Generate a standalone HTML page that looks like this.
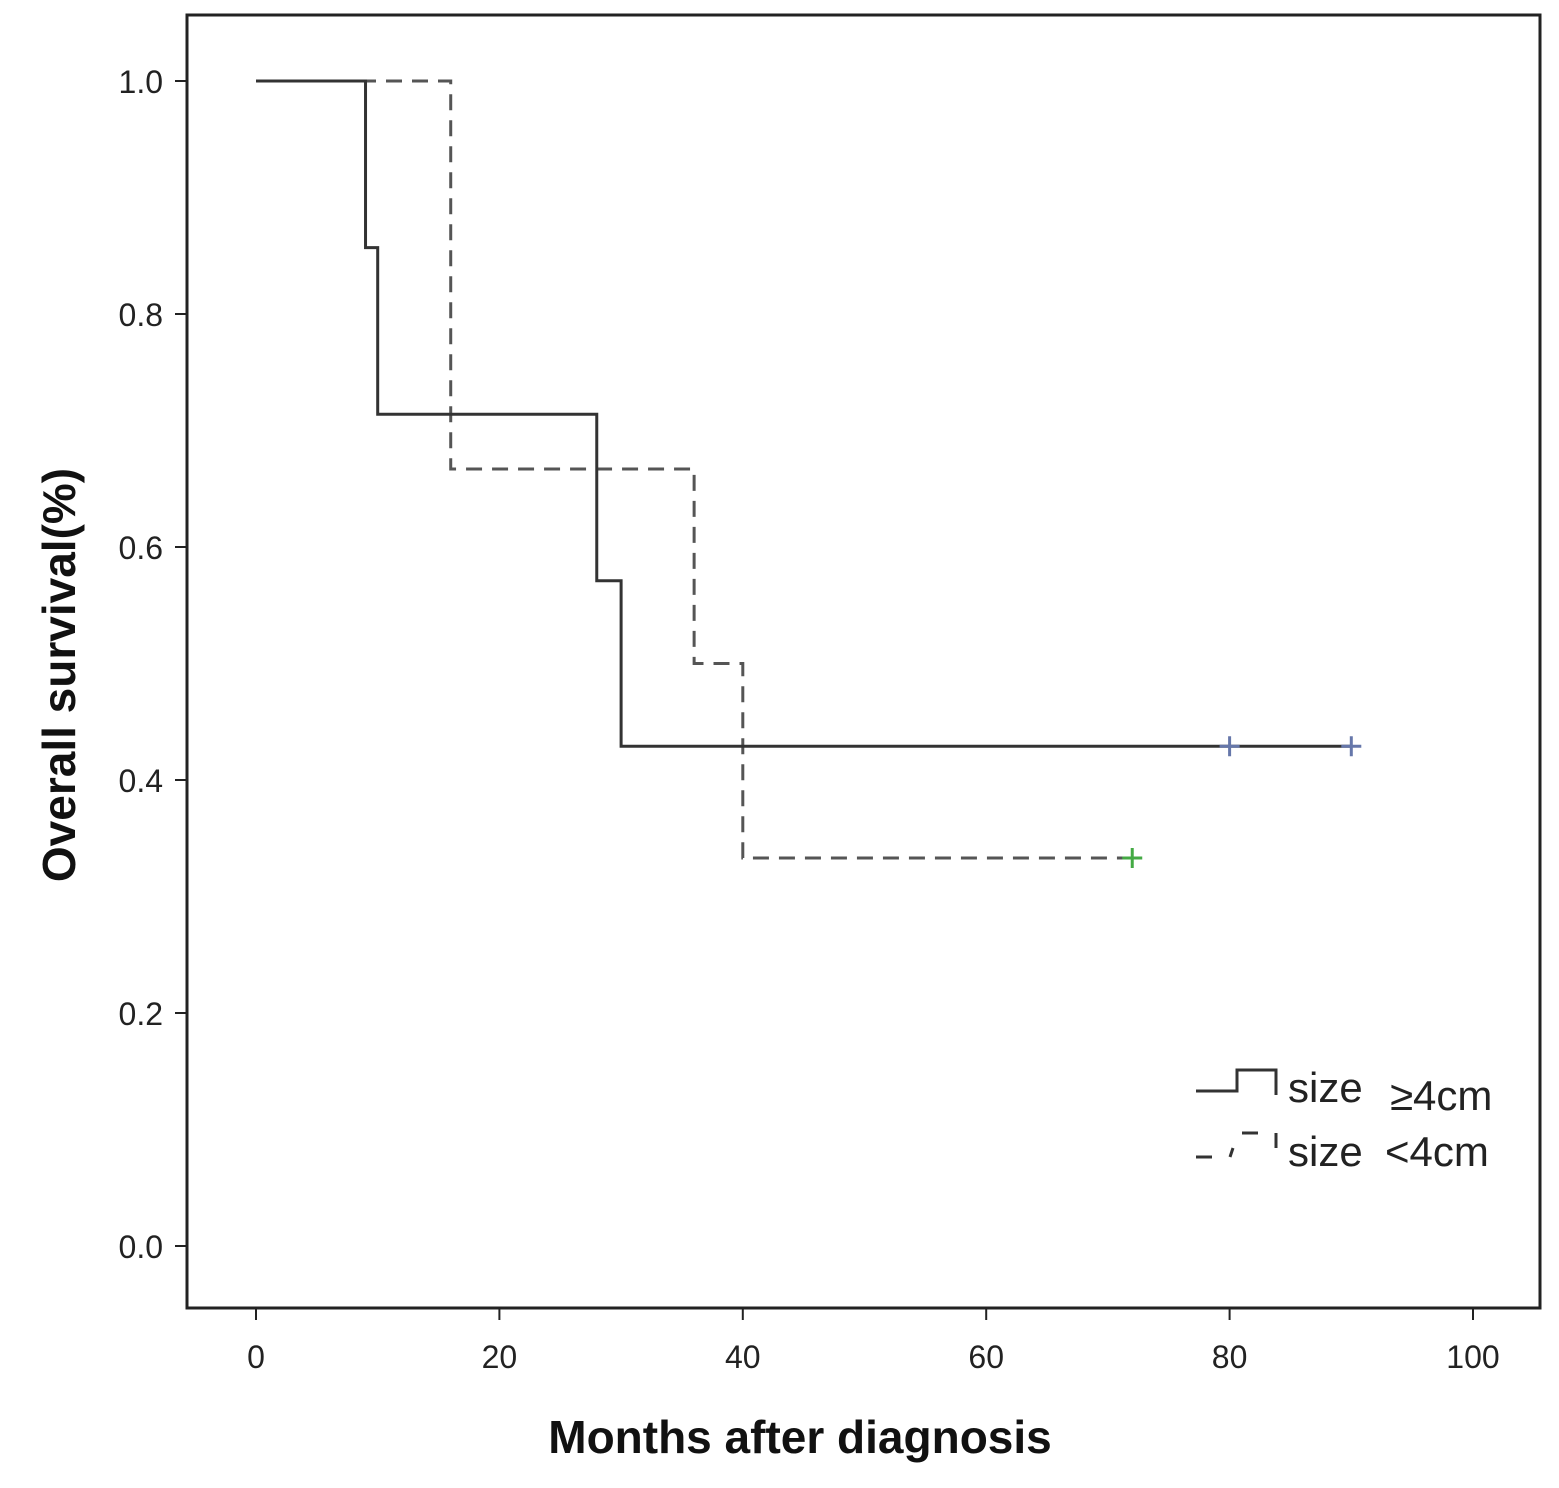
<!DOCTYPE html>
<html><head><meta charset="utf-8"><style>
html,body{margin:0;padding:0;background:#fff;}
svg{display:block;font-family:"Liberation Sans",sans-serif;}
</style></head><body>
<svg id="chart" width="1559" height="1488" viewBox="0 0 1559 1488">
<rect x="187" y="15" width="1353" height="1293" fill="#fff" stroke="#222" stroke-width="3"/>
<g id="axes"></g>
<g id="series"></g>
<text x="60" y="690" transform="rotate(-90 60 675)" font-size="46" font-weight="bold" fill="#111" text-anchor="middle">Overall survival(%)</text>
<text x="800" y="1453" font-size="46" font-weight="bold" fill="#111" text-anchor="middle">Months after diagnosis</text>
<g>
<path d="M1196 1091 H1237 V1070 H1276 V1095" fill="none" stroke="#333" stroke-width="3"/>
<text x="1288" y="1102" font-size="42" fill="#222">size</text>
<text x="1390" y="1110" font-size="42" fill="#222">≥4cm</text>
<path d="M1196 1157 H1212 M1230 1157 L1233 1148 M1242 1133 H1258 M1276 1133 V1148" fill="none" stroke="#333" stroke-width="3"/>
<text x="1288" y="1166" font-size="42" fill="#222">size</text>
<text x="1385" y="1166" font-size="42" fill="#222">&lt;4cm</text>
</g>
</svg>
<script>
const xTicks=[0,20,40,60,80,100];
const yTicks=[0.0,0.2,0.4,0.6,0.8,1.0];
const solidTimes=[0,9,10,28,30,90];
const solidSurv=[1.0,0.857,0.714,0.571,0.429,0.429];
const solidCensor=[80,90];
const dashTimes=[0,16,36,40,72];
const dashSurv=[1.0,0.667,0.5,0.333,0.333];
const dashCensor=[72];
const X=v=>256+v*12.17;
const Y=v=>1246-v*1165;
const NS="http://www.w3.org/2000/svg";
const axes=document.getElementById('axes'),series=document.getElementById('series');
function mk(tag,attrs,parent){const e=document.createElementNS(NS,tag);for(const k in attrs)e.setAttribute(k,attrs[k]);parent.appendChild(e);return e;}
xTicks.forEach(t=>{
 const l=mk('line',{x1:X(t),x2:X(t),y1:1308,y2:1320,stroke:'#222','stroke-width':2},axes);
 
 
 const tx=mk('text',{x:X(t),y:1368,'font-size':32,fill:'#222','text-anchor':'middle'},axes);
 tx.textContent=t;
 
 
});
yTicks.forEach(t=>{
 const l=mk('line',{x1:175,x2:187,y1:Y(t),y2:Y(t),stroke:'#222','stroke-width':2},axes);
 
 
 const tx=mk('text',{x:163,y:Y(t)+12,'font-size':32,fill:'#222','text-anchor':'end'},axes);
 tx.textContent=t.toFixed(1);
 
 
});
function stepPath(ts,ss){let d=`M${X(ts[0])} ${Y(ss[0])}`;for(let i=1;i<ts.length;i++){d+=` H${X(ts[i])} V${Y(ss[i])}`;}return d;}
const dp=mk('path',{d:stepPath(dashTimes,dashSurv),fill:'none',stroke:'#555','stroke-width':3,'stroke-dasharray':'16 10'},series);


const sp=mk('path',{d:stepPath(solidTimes,solidSurv),fill:'none',stroke:'#333','stroke-width':3},series);


function stepAt(ts,ss,t){let v=ss[0];for(let i=0;i<ts.length;i++)if(ts[i]<=t)v=ss[i];return v;}
function censor(t,s,col){const g=mk('path',{d:`M${X(t)-10} ${Y(s)} H${X(t)+10} M${X(t)} ${Y(s)-10} V${Y(s)+10}`,stroke:col,'stroke-width':3},series);return g;}
solidCensor.forEach(t=>{const c=censor(t,stepAt(solidTimes,solidSurv,t),'#6677aa');
 
 });
dashCensor.forEach(t=>{const c=censor(t,stepAt(dashTimes,dashSurv,t),'#44aa44');
 
 });
</script>
</body></html>
